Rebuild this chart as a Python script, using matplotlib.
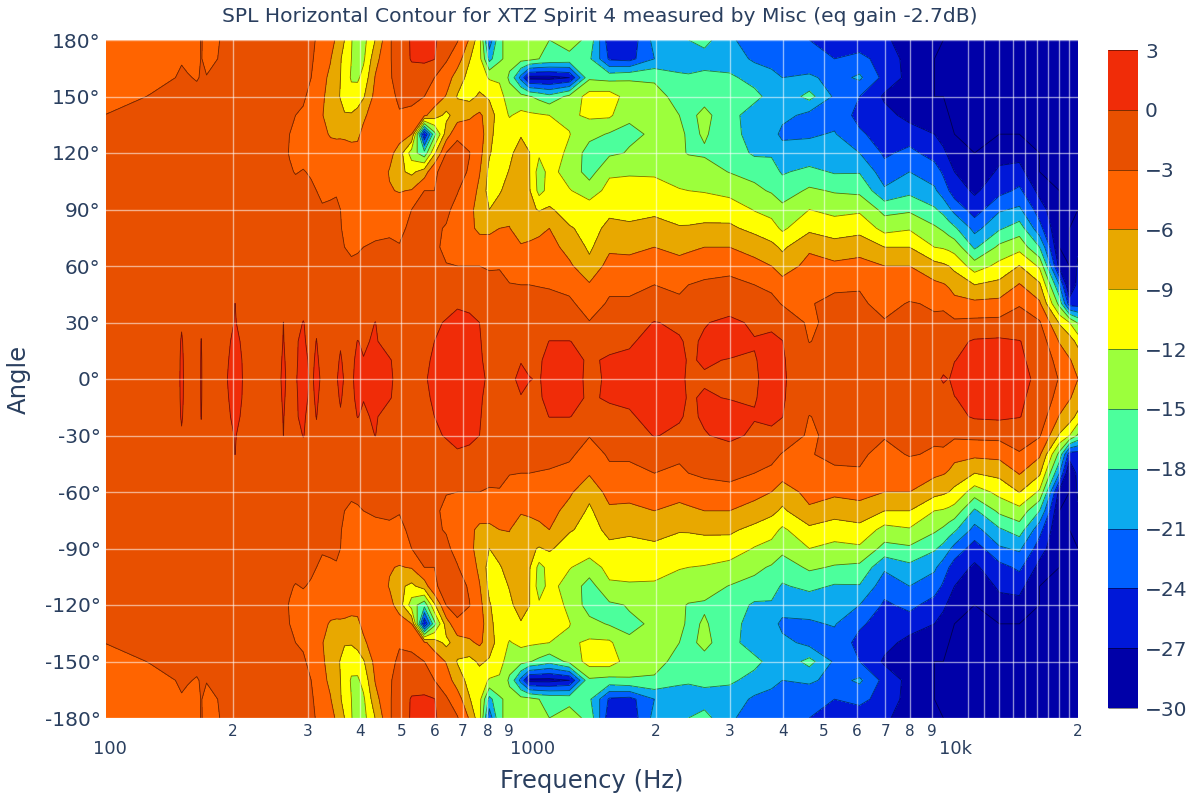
import numpy as np
import matplotlib
matplotlib.use("Agg")
import matplotlib.pyplot as plt
from matplotlib.transforms import ScaledTranslation

# frequencies in Hz, one entry per line of spl_by_freq
freqs = [100, 127, 146, 151, 156, 164, 168, 173, 191, 202, 216, 244, 256, 263, 272, 281, 293, 306, 315, 325,
         340, 351, 359, 367, 381, 394, 407, 434, 469, 495, 529, 567, 599, 639, 679, 725, 766, 808, 854, 902,
         960, 1005, 1060, 1121, 1250, 1394, 1555, 1734, 1987, 2277, 2393, 2610, 2992, 3428, 3761, 3992, 4624, 5302, 6080, 6966, 7980, 9143,
         9600, 9900, 10200, 11380, 13030, 14530, 16220, 18070, 19090, 20000]

# angles 0 to 180, the picture is the same on the negative side
angles = [0, 10, 20, 30, 40, 50, 60, 70, 80, 90, 100, 110, 120, 130, 140, 150, 160, 170, 180]

# SPL in dB, angle 0 first
spl_by_freq = [
    [-1, -1.1, -1.3, -1.5, -1.7, -1.9, -2, -2.1, -2.2, -2.3, -2.4, -2.5, -2.6, -2.8, -2.97, -3.5, -4, -4.4, -4.5],
    [-.9, -1, -1.2, -1.4, -1.6, -1.8, -1.9, -2, -2.1, -2.2, -2.3, -2.4, -2.5, -2.6, -2.7, -2.95, -3.4, -4, -4.4],
    [-.8, -.9, -1.1, -1.3, -1.5, -1.7, -1.9, -2, -2.1, -2.1, -2.2, -2.2, -2.3, -2.3, -2.3, -2.6, -3, -3.6, -4],
    [.3, .3, .2, -.2, -1.3, -1.7, -1.9, -2, -2.1, -2.1, -2.2, -2.2, -2.3, -2.3, -2.3, -2.5, -2.8, -3.1, -3.8],
    [-.7, -.8, -1, -1.3, -1.5, -1.7, -1.9, -2, -2.1, -2.1, -2.2, -2.2, -2.3, -2.3, -2.3, -2.5, -2.9, -3.3, -3.8],
    [-.8, -.9, -1, -1.3, -1.5, -1.7, -1.9, -2, -2.1, -2.1, -2.2, -2.2, -2.3, -2.3, -2.4, -2.6, -3.1, -3.4, -3.5],
    [.1, .1, .05, -.3, -1.4, -1.7, -1.9, -2, -2.1, -2.1, -2.2, -2.2, -2.3, -2.3, -2.3, -2.5, -2.9, -2.95, -2.9],
    [-.7, -.8, -1, -1.3, -1.5, -1.7, -1.9, -2, -2.1, -2.1, -2.2, -2.2, -2.3, -2.3, -2.4, -2.6, -2.95, -3.3, -3.5],
    [-.2, -.3, -.5, -.9, -1.4, -1.7, -1.9, -2, -2, -2.1, -2.1, -2.2, -2.2, -2.2, -2.3, -2.4, -2.7, -2.8, -2.8],
    [.6, .5, .4, .1, .02, -.9, -1.7, -1.9, -2, -2, -2.1, -2.1, -2.2, -2.2, -2.2, -2.3, -2.5, -2.5, -2.5],
    [-.4, -.4, -.6, -.9, -1.3, -1.7, -1.9, -2, -2, -2, -2.1, -2.1, -2.1, -2.2, -2.2, -2.2, -2.3, -2.2, -2.2],
    [-.8, -.9, -1.2, -1.4, -1.6, -1.8, -2, -2.1, -2.2, -2.3, -2.3, -2.4, -2.4, -2.4, -2.3, -2.2, -2.1, -2, -2],
    [-.3, -.4, -.8, -1.2, -1.6, -1.9, -2.1, -2.2, -2.3, -2.4, -2.5, -2.6, -2.6, -2.6, -2.5, -2.4, -2.3, -2.2, -2.1],
    [.3, .2, .1, .02, -.9, -1.8, -2.2, -2.3, -2.4, -2.5, -2.6, -2.7, -2.8, -2.8, -2.6, -2.5, -2.4, -2.3, -2.2],
    [-.5, -.6, -1, -1.5, -1.9, -2.2, -2.3, -2.4, -2.5, -2.6, -2.7, -2.9, -3.05, -3, -2.8, -2.6, -2.5, -2.4, -2.3],
    [-.1, -.15, -.1, -1, -1.8, -2.2, -2.4, -2.5, -2.5, -2.6, -2.7, -3.05, -3.2, -3.1, -3, -2.7, -2.6, -2.5, -2.4],
    [.5, .4, .2, .1, -1, -2, -2.4, -2.5, -2.6, -2.6, -2.7, -2.95, -3.3, -3.2, -3.1, -2.9, -2.7, -2.6, -2.5],
    [-.2, -.3, -.5, -.9, -2, -2.4, -2.5, -2.6, -2.7, -2.75, -2.85, -3.1, -3.5, -3.6, -3.4, -3.2, -3, -2.8, -2.7],
    [.3, .2, .05, -.3, -1.2, -2.2, -2.5, -2.6, -2.7, -2.8, -3, -3.3, -3.6, -3.8, -4.1, -4.1, -3.8, -3.3, -3.1],
    [-.2, -.4, -.9, -1.4, -2, -2.3, -2.5, -2.7, -2.8, -2.95, -3.1, -3.3, -4, -5, -5.9, -5.5, -5, -4.4, -3.9],
    [-.8, -.9, -1.1, -1.5, -1.9, -2.3, -2.5, -2.6, -2.7, -2.8, -3.2, -3.4, -4.2, -6.4, -7, -7.3, -6.8, -5.8, -5.2],
    [-.1, -.2, -.8, -1.3, -1.9, -2.4, -2.6, -2.7, -2.8, -2.9, -3.05, -3.3, -4.3, -6.6, -7.7, -8.2, -8.4, -8.2, -6.3],
    [.3, .1, -.1, -1, -1.9, -2.5, -2.6, -2.8, -2.9, -3, -3.2, -3.5, -4.5, -6.5, -8, -9.2, -9, -8.7, -7.5],
    [-.1, -.2, -.7, -1.4, -2, -2.5, -2.8, -3, -3.3, -3.4, -3.6, -4, -4.8, -6.5, -8.8, -10, -10.5, -10.5, -9],
    [-.2, -.3, -.6, -1.2, -1.8, -2.5, -2.9, -3.1, -3.8, -4, -4.1, -4.5, -5.2, -6.6, -8.7, -11, -12.3, -12, -11.8],
    [.4, .3, .05, -.9, -1.6, -2.4, -2.8, -3.1, -3.6, -4.1, -4.3, -4.5, -5.2, -6.5, -8, -10.5, -12.5, -14, -14],
    [.6, .05, -.2, -.9, -1.7, -2.4, -2.7, -3, -3.5, -4, -4.4, -4.5, -4.7, -5.3, -6.5, -9.3, -11, -12.5, -13],
    [.7, .5, .2, .05, -1.3, -2.2, -2.6, -2.9, -3.2, -3.5, -3.8, -4, -4, -4.3, -4.5, -5, -5.8, -7, -8.9],
    [.2, .15, -.9, -1.9, -2.3, -2.5, -2.7, -2.9, -3.1, -4, -5.8, -6.2, -5, -4, -3.5, -3.3, -3.2, -3.2, -3.2],
    [-.4, -.7, -1.1, -1.8, -2.3, -2.6, -2.8, -2.95, -3.2, -4.3, -6.2, -8.4, -7.5, -4.5, -3.1, -2.8, -2.3, -2, -2],
    [-.7, -.9, -1.2, -1.7, -2.2, -2.5, -2.6, -2.7, -2.8, -3, -5.8, -9.7, -13.5, -6, -3.6, -2.4, -1.5, .3, .4],
    [-.2, -.4, -.7, -1.3, -1.8, -2.2, -2.4, -2.5, -2.6, -2.8, -3, -7.5, -17, -27, -5.5, -3, -2, .6, 1.2],
    [.5, .3, 0, -.4, -1.2, -1.8, -2.4, -2.6, -2.8, -2.9, -3, -3.3, -9.5, -16, -7.5, -4.2, -3, .1, .5],
    [1, .9, .7, .2, -.9, -2, -2.9, -3.5, -3.1, -2.7, -2.3, -2.2, -2.9, -7.5, -9.8, -6.2, -4.5, -2.7, -2],
    [1.2, 1.1, 1, .5, -.2, -1.4, -3, -3.8, -4, -3.5, -2.9, -2, -2, -3.5, -7.5, -9.2, -7.5, -4.5, -2.8],
    [1, .9, .7, .3, -.3, -1.5, -3, -5, -5.3, -4.8, -4, -3.3, -2.9, -4.2, -6.5, -9.9, -10, -8.8, -6.3],
    [.4, .3, .2, 0, -1, -2.5, -3, -4.5, -6.7, -7.8, -6.8, -5.8, -5, -4.5, -5.5, -8.5, -10.5, -11, -11],
    [-.3, -.7, -1.1, -1.7, -2.3, -2.7, -3.1, -5, -6.5, -9, -10.2, -9.8, -8.7, -8, -7.4, -9.4, -12.3, -19, -23],
    [-.7, -.8, -1.2, -1.8, -2.3, -2.6, -3.1, -4.2, -6, -7.8, -9.3, -10.3, -10.8, -10.7, -10.5, -10.8, -12.5, -15.5, -15.5],
    [-.5, -.7, -1, -1.7, -2.3, -2.9, -3.9, -5, -5.9, -6.8, -7.8, -8.8, -9.7, -10.5, -12.2, -13.7, -15.5, -14, -14],
    [.5, -.1, -.9, -1.6, -2.2, -3, -4, -5.6, -7.8, -8, -7.5, -7.3, -7.5, -9.3, -11.3, -14, -22, -14, -13],
    [.05, -.3, -.8, -1.6, -2.2, -3, -4, -5.3, -7.5, -8.5, -8.7, -8.8, -8.9, -10.5, -11.5, -14.8, -28, -14, -13],
    [-.1, -.2, -.7, -1.65, -2.2, -3.1, -4.1, -5, -6.8, -9.2, -13, -13.5, -11.5, -11, -11.7, -15.8, -28, -15, -14],
    [.6, .5, .05, -1.7, -2.3, -3.2, -4.3, -5, -6, -8.6, -11, -11, -10.8, -11.3, -12, -17, -28, -15.5, -15],
    [.6, .5, .05, -1.8, -2.6, -3.6, -5.5, -7, -8.7, -10.5, -11.8, -13.3, -12.5, -11.9, -12.5, -14.2, -27, -16, -13.5],
    [-.3, -.2, -.6, -2.9, -4, -5.7, -8.2, -9.5, -10, -10.5, -13.5, -16.2, -16.5, -14, -11.5, -10.7, -15.5, -17.5, -16],
    [.2, .2, -.5, -1.3, -2.7, -3.5, -4.8, -6.6, -8.3, -9.6, -11, -12.5, -15.5, -15.3, -11.5, -10.5, -16, -24.5, -26],
    [.6, .3, -.2, -1, -2.5, -3.8, -5, -6.7, -8.5, -9.9, -11.3, -12.2, -14.8, -15.4, -14.7, -13.5, -15.3, -25, -26],
    [.8, .7, .6, .1, -1.9, -3, -4.6, -6, -8, -9.6, -11.2, -12.3, -13.5, -14.7, -14.8, -14.5, -15.2, -21, -20],
    [.3, .3, .2, -.4, -2.5, -3.5, -5, -6.8, -8.7, -10.7, -11.8, -13.5, -14.5, -14, -15, -15.5, -17, -20.8, -18.5],
    [-.2, -.1, -.3, -.6, -2, -3, -4.7, -6.5, -8.7, -10.5, -12, -13.2, -15.2, -15.7, -15.8, -16.3, -17.5, -20, -18],
    [-.1, .1, .2, -.1, -1.5, -2.5, -4.3, -6, -8.5, -10.2, -12.2, -14, -15.3, -14.7, -14.2, -16, -17.2, -19.3, -17],
    [-.3, -.05, .5, .4, -.8, -2.2, -3.9, -6, -8.5, -10.3, -13, -15.1, -16.3, -16.7, -17, -17.3, -17.5, -19.5, -20.5],
    [-.2, -.1, .1, -.3, -1.5, -3, -5, -7.2, -9.8, -12.2, -14.4, -15.8, -18.5, -19.5, -19.5, -17.2, -19, -21.5, -22.5],
    [.6, .6, .5, -.5, -2.1, -3.7, -6, -8.2, -10.9, -13, -15.3, -17, -18.3, -19.5, -19.5, -19, -20, -22.2, -22.5],
    [.2, .2, .05, -1, -3.2, -4.8, -7.5, -9.5, -12.5, -14.2, -16.5, -18.3, -19, -22, -20, -20, -21, -21.5, -22],
    [-1.2, -1.7, -3.1, -3.5, -3.1, -3.6, -5, -6.5, -9.7, -12, -14.5, -17.2, -20, -21.3, -22, -17, -20.5, -23, -24],
    [-1.5, -1.8, -1.9, -2.1, -2.6, -3.3, -5.4, -7.7, -10.6, -12.8, -15.3, -18.3, -20, -20.8, -22, -21.5, -22, -24, -25],
    [-1.7, -1.8, -1.9, -2.2, -2.6, -3.2, -5, -7.2, -10, -12.5, -15.7, -18.2, -21, -23.5, -25, -24, -20.5, -23, -26],
    [-1.6, -1.7, -2, -2.8, -3.8, -4.8, -6, -9, -13, -16, -20.5, -22.8, -24.5, -25.5, -26, -27.5, -25, -25.5, -26.5],
    [-1.2, -1.4, -1.6, -2, -2.8, -4.5, -6, -9, -12.3, -15.5, -18.8, -21, -23.2, -25.5, -28, -28.5, -28, -28, -28.5],
    [-.5, -1, -1.2, -2.6, -3.3, -5.4, -8, -12, -14.5, -17.6, -20.5, -22.5, -25.3, -27, -28.5, -30, -30, -30, -29],
    [.2, -.7, -1, -1.7, -3.8, -5.8, -8.5, -12.3, -15.5, -19, -22.5, -24.5, -26.5, -28, -29.5, -30, -30, -30, -30],
    [-.05, -.6, -.9, -2, -4.5, -6.3, -9, -12.7, -16.5, -20.5, -24, -26, -27.5, -29.5, -30, -30, -30, -30, -30],
    [.5, -.05, -.7, -2.5, -5.2, -7, -9.8, -13.2, -17.5, -22, -25.5, -27, -28.5, -30, -30, -30, -30, -30, -30],
    [1, .6, .3, -2.3, -5.3, -9, -13.5, -18.5, -22, -25.5, -27.5, -29, -30, -30, -30, -30, -30, -30, -30],
    [1.2, .8, .5, -2.2, -5.1, -8.2, -11.1, -14.3, -18.4, -21.4, -25, -26.5, -28, -30, -30, -30, -30, -30, -30],
    [.5, .3, .1, -1.9, -3.2, -5.8, -8.9, -13, -16.5, -20.5, -23.4, -26, -28, -30, -30, -30, -30, -30, -30],
    [-.4, -.7, -1.3, -2.7, -5.5, -8.5, -12.5, -18, -23, -25.5, -28, -30, -30, -30, -30, -30, -30, -30, -30],
    [-3.2, -4.2, -6.2, -9.3, -16, -21, -28, -30, -30, -30, -30, -30, -30, -30, -30, -30, -30, -30, -30],
    [-5, -5.8, -7.5, -12, -25.5, -30, -30, -30, -30, -30, -30, -30, -30, -30, -30, -30, -30, -30, -30],
    [-6, -7, -10, -15.5, -25.5, -26, -26.5, -27.5, -29, -30, -30, -30, -30, -30, -30, -30, -30, -30, -30],
]

levels = [-30, -27, -24, -21, -18, -15, -12, -9, -6, -3, 0, 3]
band_colors = ["#0000a8", "#0018d8", "#0060ff", "#0caaee", "#4cff9c", "#9cff3c",
               "#ffff00", "#e8a800", "#ff6400", "#e85000", "#f02c08"]

grid_freqs = [200, 300, 400, 500, 600, 700, 800, 1000, 2000, 3000, 4000, 5000, 6000, 7000, 8000, 9000,
              11000, 12000, 13000, 14000, 15000, 16000, 17000, 18000, 19000]
major_freqs = [100, 1000, 10000]
major_labels = ["100", "1000", "10k"]
minor_freqs = [200, 300, 400, 500, 600, 700, 800, 900, 2000, 3000, 4000, 5000, 6000, 7000, 8000, 9000, 20000]
minor_labels = ["2", "3", "4", "5", "6", "7", "8", "9", "2", "3", "4", "5", "6", "7", "8", "9", "2"]
angle_ticks = [-180, -150, -120, -90, -60, -30, 0, 30, 60, 90, 120, 150, 180]

text_color = "#2a3f5f"

# mirror the top half to get -180..180
top = np.array(spl_by_freq).T
spl = np.vstack([top[:0:-1], top])
all_angles = np.concatenate([-np.array(angles[:0:-1]), np.array(angles)])

fig = plt.figure(figsize=(12, 8), dpi=100)
ax = fig.add_axes([106 / 1200, 1 - 718 / 800, 972 / 1200, 678 / 800])

cf = ax.contourf(freqs, all_angles, spl, levels=levels, colors=band_colors)
lines = ax.contour(freqs, all_angles, spl, levels=levels, colors="black", linewidths=0.6,
                   linestyles="solid", alpha=0.55)

ax.set_xscale("log")
ax.set_xlim(100, 20000)
ax.set_ylim(-180, 180)

for f in grid_freqs:
    ax.axvline(f, color="white", lw=1, alpha=0.55)
for a in angle_ticks:
    ax.axhline(a, color="white", lw=1, alpha=0.55)

ax.set_xticks(major_freqs, major_labels)
ax.set_xticks(minor_freqs, minor_labels, minor=True)
ax.set_yticks(angle_ticks, [f"{a}°" for a in angle_ticks])
ax.tick_params(axis="x", which="major", length=0, pad=16, labelsize=13, colors=text_color)
ax.tick_params(axis="x", which="minor", length=0, pad=4, labelsize=11, colors=text_color)
ax.tick_params(axis="y", length=0, pad=4, labelsize=14.5, colors=text_color)
# the big labels sit a little right of their tick
for lab in ax.get_xticklabels():
    lab.set_transform(lab.get_transform() + ScaledTranslation(3 / 72, 0, fig.dpi_scale_trans))
for spine in ax.spines.values():
    spine.set_visible(False)

ax.set_xlabel("Frequency (Hz)", fontsize=17.5, color=text_color, labelpad=8)
ax.set_ylabel("Angle", fontsize=17.5, color=text_color, labelpad=10)
fig.text(600 / 1200, 1 - 16 / 800, "SPL Horizontal Contour for XTZ Spirit 4 measured by Misc (eq gain -2.7dB)",
         ha="center", va="center", fontsize=14.6, color=text_color)

cax = fig.add_axes([1108 / 1200, 1 - 708 / 800, 30 / 1200, 658 / 800])
cbar = fig.colorbar(cf, cax=cax, ticks=levels)
cbar.add_lines(lines)
cbar.outline.set_visible(False)
cbar.ax.tick_params(length=0, pad=5, labelsize=14.5, colors=text_color)

fig.savefig("out.png", dpi=100)
